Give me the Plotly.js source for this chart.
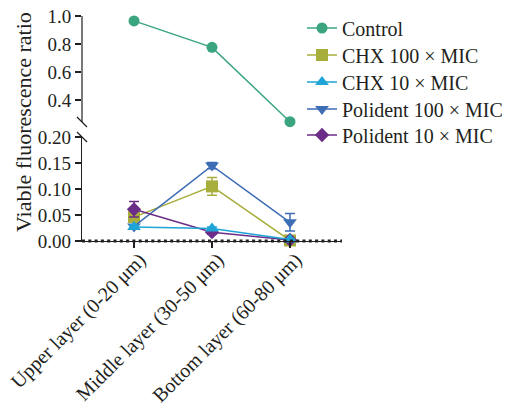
<!DOCTYPE html>
<html>
<head>
<meta charset="utf-8">
<script src="https://cdn.plot.ly/plotly-3.0.1.min.js"></script>
<style>html,body{margin:0;padding:0;background:#fff;}#chart{width:510px;height:410px;}</style>
</head>
<body>
<div id="chart"></div>
<script>
// ---- data ----
const categories = ['Upper layer (0-20 μm)', 'Middle layer (30-50 μm)', 'Bottom layer (60-80 μm)'];
const seriesNames = ['Control', 'CHX 100 × MIC', 'CHX 10 × MIC', 'Polident 100 × MIC', 'Polident 10 × MIC'];
const control = [0.965, 0.776, 0.245];
const controlErr = [0.005, 0.005, 0.02];
const chx100 = [0.046, 0.105, 0.001];
const chx100Err = [0.01, 0.017, 0.002];
const chx10 = [0.027, 0.024, 0.003];
const chx10Err = [0.004, 0.003, 0.001];
const pol100 = [0.028, 0.145, 0.036];
const pol100Err = [0.003, 0.006, 0.017];
const pol10 = [0.061, 0.017, 0.002];
const pol10Err = [0.015, 0.004, 0.001];
const upperTicks = [0.4, 0.6, 0.8, 1.0];
const lowerTicks = [0, 0.05, 0.10, 0.15, 0.20];

const FONT = 'Liberation Serif';
const TXT = '#231f20';

// axis geometry (paper units)
const lowerTop = 104 / 225;
const upperBottom = 1 - 112 / 225;
const px = v => v / 260;         // horizontal px -> paper
const py = v => (241 - v) / 225; // page y px -> paper

function tr(name, y, err, color, symbol, size, yaxis, legendId, capW) {
  return {
    type: 'scatter', mode: 'lines+markers', name: name,
    x: categories, y: y, xaxis: 'x', yaxis: yaxis,
    line: {color: color, width: 1.5},
    marker: {color: color, symbol: symbol, size: size, line: {width: 0}},
    error_y: {type: 'data', array: err, visible: true, color: color, thickness: 1.5, width: capW},
    legend: legendId, cliponaxis: false
  };
}

const traces = [
  tr(seriesNames[0], control, controlErr, '#3aa57f', 'circle', 11, 'y2', 'legend', 0),
  tr(seriesNames[1], chx100, chx100Err, '#a8ae3c', 'square', 12, 'y', 'legend2', 5),
  tr(seriesNames[3], pol100, pol100Err, '#3d6db5', 'triangle-down', 12, 'y', 'legend4', 5),
  tr(seriesNames[4], pol10, pol10Err, '#6b2d87', 'diamond', 11, 'y', 'legend5', 5),
  tr(seriesNames[2], chx10, chx10Err, '#1ea4d6', 'triangle-up', 12, 'y', 'legend3', 5)
];

function leg(yPx) {
  return {x: px(302 - 82), y: py(yPx), xanchor: 'left', yanchor: 'middle',
          font: {family: FONT, size: 20, color: TXT}, bgcolor: 'rgba(0,0,0,0)',
          borderwidth: 0, itemwidth: 30};
}

const layout = {
  width: 510, height: 410,
  margin: {l: 82, r: 168, t: 16, b: 169, autoexpand: false},
  paper_bgcolor: '#fff', plot_bgcolor: 'rgba(0,0,0,0)',
  font: {family: FONT, color: TXT, size: 19},
  showlegend: true,
  legend: leg(28), legend2: leg(55), legend3: leg(82), legend4: leg(109), legend5: leg(135),
  xaxis: {
    type: 'category', range: [-0.667, 2.667], anchor: 'y',
    showline: true, linecolor: '#231f20', linewidth: 1.2, showgrid: false, zeroline: false,
    ticks: 'outside', ticklen: 6, tickwidth: 1.2, tickcolor: '#231f20',
    tickangle: -45, tickfont: {family: FONT, size: 20, color: TXT},
    ticklabelstandoff: -8, ticklabelshift: 6
  },
  yaxis: {
    domain: [0, lowerTop], range: [0, 0.2], anchor: 'x',
    showline: true, linecolor: '#231f20', linewidth: 1.2, showgrid: false, zeroline: false,
    ticks: 'outside', ticklen: 6, tickwidth: 1.2, tickcolor: '#231f20',
    tickvals: lowerTicks, tickformat: '.2f', tickfont: {family: FONT, size: 19, color: TXT}
  },
  yaxis2: {
    domain: [upperBottom, 1], range: [0.2, 1.0], anchor: 'x',
    showline: false, showgrid: false, zeroline: false,
    ticks: 'outside', ticklen: 6, tickwidth: 1.2, tickcolor: '#231f20',
    tickvals: upperTicks, tickformat: '.1f', tickfont: {family: FONT, size: 19, color: TXT}
  },
  shapes: [
    {type: 'line', xref: 'paper', yref: 'paper', x0: 0, x1: 0, y0: py(122), y1: 1, line: {color: '#231f20', width: 1.2}},
    {type: 'line', xref: 'paper', yref: 'paper', x0: px(-5), x1: px(5), y0: py(117), y1: py(127), line: {color: '#231f20', width: 1.2}},
    {type: 'line', xref: 'paper', yref: 'paper', x0: px(-5), x1: px(5), y0: py(132), y1: py(142), line: {color: '#231f20', width: 1.2}},
    {type: 'line', xref: 'paper', yref: 'paper', x0: 0, x1: 1, y0: 0, y1: 0, line: {color: '#231f20', width: 3, dash: '3px,3.3px'}}
  ],
  annotations: [
    {text: 'Viable fluorescence ratio', xref: 'paper', yref: 'paper', x: px(23 - 82), y: py(122),
     xanchor: 'center', yanchor: 'middle', textangle: -90, showarrow: false,
     font: {family: FONT, size: 22, color: TXT}}
  ]
};

Plotly.newPlot('chart', traces, layout, {displayModeBar: false, staticPlot: true});
</script>
</body>
</html>
